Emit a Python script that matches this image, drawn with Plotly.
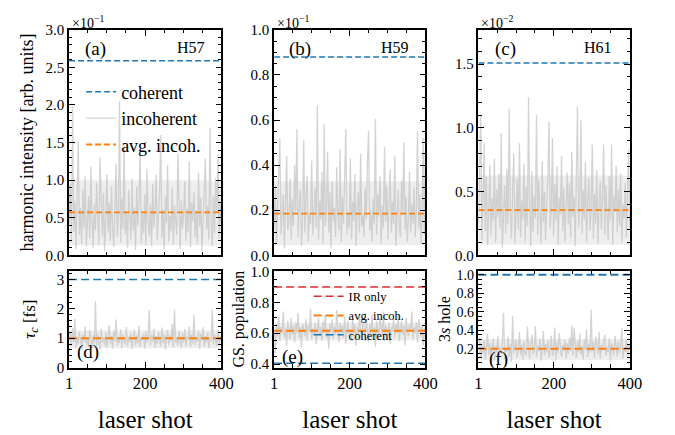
import plotly.graph_objects as go

FONT = "Liberation Serif"
BLUE = "#1f77b4"
ORANGE = "#ff7f0e"
RED = "#e32b2b"
NOISE = "rgba(200,200,200,0.8)"
BAND = "rgba(205,205,205,0.35)"

# laser shots that were sampled (every third shot of 400)
shots = list(range(1, 401, 3))
shot_range = [1, 400]

# ---- harmonic intensities (H57 in 1e-1, H59 in 1e-1, H61 in 1e-2 arb. units) ----
h57_incoh = [0.42, 0.95, 0.18, 1.98, 0.31, 0.72, 0.08, 1.12, 1.52, 0.27,
             0.63, 0.15, 0.88, 0.36, 1.05, 0.12, 0.54, 0.79, 0.22, 1.18,
             0.47, 0.09, 0.68, 0.33, 0.97, 0.41, 0.14, 1.30, 0.58, 0.25,
             0.83, 0.06, 0.49, 1.08, 0.30, 0.71, 0.19, 0.92, 0.38, 0.11,
             0.66, 1.22, 0.24, 0.52, 2.05, 0.17, 0.76, 0.35, 1.45, 0.28,
             0.59, 0.10, 0.87, 0.44, 0.21, 1.02, 0.33, 0.64, 0.07, 0.91,
             0.39, 0.74, 1.40, 0.16, 0.55, 0.29, 0.81, 0.13, 1.15, 0.46,
             0.26, 0.69, 0.12, 0.95, 0.37, 0.58, 1.07, 0.20, 0.50, 0.85,
             1.60, 0.23, 0.61, 0.09, 0.78, 0.43, 1.20, 0.18, 0.53, 0.32,
             0.90, 0.14, 0.67, 0.40, 0.27, 1.35, 0.48, 0.08, 0.73, 0.35,
             0.56, 0.98, 0.19, 0.62, 0.31, 1.25, 0.11, 0.70, 0.45, 0.84,
             0.24, 0.60, 0.15, 1.10, 0.38, 0.77, 0.06, 0.52, 0.93, 1.28,
             0.34, 0.65, 0.21, 1.70, 0.44, 0.12, 0.80, 0.29, 1.03, 0.57,
             1.35, 0.22, 0.69, 0.41]
h57_coherent = 2.59
h57_avg = 0.57
h57_band = [0.13, 1.00]

h59_incoh = [0.12, 0.31, 0.05, 0.22, 0.38, 0.52, 0.09, 0.17, 0.27, 0.03,
             0.20, 0.44, 0.11, 0.15, 0.34, 0.07, 0.25, 0.13, 0.40, 0.18,
             0.56, 0.08, 0.21, 0.29, 0.04, 0.16, 0.51, 0.10, 0.26, 0.35,
             0.06, 0.19, 0.14, 0.42, 0.09, 0.23, 0.30, 0.12, 0.665, 0.07,
             0.24, 0.16, 0.37, 0.05, 0.58, 0.13, 0.20, 0.46, 0.10, 0.28,
             0.03, 0.33, 0.15, 0.21, 0.08, 0.39, 0.17, 0.11, 0.47, 0.06,
             0.26, 0.14, 0.32, 0.56, 0.09, 0.19, 0.12, 0.43, 0.07, 0.24,
             0.15, 0.36, 0.04, 0.22, 0.28, 0.10, 0.45, 0.13, 0.18, 0.08,
             0.30, 0.16, 0.41, 0.55, 0.11, 0.20, 0.06, 0.25, 0.14, 0.605,
             0.09, 0.27, 0.17, 0.35, 0.05, 0.22, 0.12, 0.48, 0.15, 0.31,
             0.07, 0.19, 0.38, 0.10, 0.24, 0.14, 0.44, 0.04, 0.21, 0.29,
             0.13, 0.08, 0.33, 0.18, 0.50, 0.11, 0.26, 0.06, 0.16, 0.37,
             0.10, 0.23, 0.14, 0.30, 0.08, 0.20, 0.55, 0.12, 0.27, 0.05,
             0.18, 0.52, 0.09, 0.47]
h59_coherent = 0.88
h59_avg = 0.185
h59_band = [0.044, 0.328]

h61_incoh = [0.25, 0.58, 1.10, 0.12, 0.40, 0.88, 0.19, 0.62, 0.08, 0.33,
             0.71, 0.15, 0.45, 0.27, 0.76, 0.10, 0.52, 0.30, 0.64, 0.21,
             0.96, 0.06, 0.37, 0.55, 0.17, 0.68, 0.24, 1.15, 0.35, 0.13,
             0.49, 0.80, 0.09, 0.31, 0.60, 0.20, 0.88, 0.14, 0.43, 0.28,
             0.72, 0.11, 0.54, 0.23, 1.24, 0.36, 0.07, 0.66, 0.18, 0.47,
             0.29, 1.10, 0.16, 0.59, 0.38, 0.09, 0.74, 0.26, 0.50, 0.12,
             0.41, 0.63, 1.05, 0.21, 0.34, 0.92, 0.15, 0.56, 0.27, 0.70,
             0.08, 0.45, 0.32, 0.78, 0.19, 0.53, 0.11, 0.39, 0.65, 0.24,
             0.57, 0.14, 0.81, 0.30, 0.46, 0.07, 0.69, 1.17, 0.22, 0.37,
             1.06, 0.17, 0.51, 0.28, 0.73, 0.10, 0.42, 0.61, 0.19, 0.35,
             0.87, 0.13, 0.48, 0.25, 0.67, 0.09, 0.39, 0.58, 0.20, 0.44,
             0.87, 0.16, 0.55, 0.31, 0.12, 0.62, 0.27, 0.87, 0.08, 0.46,
             0.34, 0.70, 0.18, 0.52, 0.23, 0.64, 0.10, 0.40, 0.29, 0.57,
             0.14, 0.48, 0.83, 0.21]
h61_coherent = 1.51
h61_avg = 0.354
h61_band = [0.083, 0.627]

# ---- coherence time tau_c [fs] ----
tau_incoh = [0.92, 1.18, 0.74, 1.35, 0.85, 1.65, 0.68, 1.05, 0.80, 1.22,
             0.95, 0.62, 1.12, 0.88, 1.40, 0.77, 1.02, 0.70, 1.28, 0.90,
             0.66, 1.10, 0.83, 2.25, 0.72, 1.15, 0.94, 0.60, 1.32, 0.86,
             1.04, 0.75, 1.20, 0.69, 0.97, 1.45, 0.81, 1.08, 0.64, 1.25,
             0.89, 1.64, 0.73, 1.00, 0.84, 1.30, 0.67, 1.13, 0.91, 0.78,
             1.38, 0.71, 1.06, 0.87, 1.19, 0.63, 0.99, 1.27, 0.76, 1.09,
             0.82, 1.42, 0.70, 1.03, 0.93, 1.16, 0.65, 1.24, 0.85, 1.01,
             1.97, 0.74, 1.11, 0.88, 1.33, 0.68, 1.07, 0.79, 1.21, 0.95,
             0.72, 1.36, 0.84, 1.14, 0.61, 1.02, 1.29, 0.77, 1.10, 0.90,
             1.48, 0.69, 1.97, 0.83, 1.05, 0.74, 1.23, 0.92, 0.66, 1.17,
             0.87, 1.31, 0.73, 1.08, 0.95, 1.40, 0.70, 1.12, 0.81, 1.80,
             0.76, 1.04, 0.89, 1.26, 0.64, 1.15, 0.93, 1.37, 0.71, 1.06,
             0.85, 1.20, 0.67, 1.01, 0.90, 1.97, 0.78, 1.13, 0.96, 0.73,
             1.28, 0.82, 1.09, 0.94]
tau_coherent = 3.0
tau_avg = 1.0
tau_band = [0.66, 1.27]

# ---- ground-state population ----
gs_incoh = [0.62, 0.47, 0.66, 0.58, 0.71, 0.55, 0.64, 0.60, 0.74, 0.57,
            0.63, 0.52, 0.68, 0.61, 0.56, 0.70, 0.59, 0.65, 0.54, 0.67,
            0.60, 0.73, 0.57, 0.64, 0.51, 0.66, 0.62, 0.58, 0.69, 0.55,
            0.65, 0.61, 0.76, 0.56, 0.63, 0.59, 0.67, 0.53, 0.62, 0.70,
            0.58, 0.64, 0.55, 0.68, 0.60, 0.72, 0.57, 0.63, 0.50, 0.66,
            0.61, 0.69, 0.56, 0.64, 0.59, 0.75, 0.62, 0.54, 0.67, 0.60,
            0.65, 0.57, 0.71, 0.53, 0.63, 0.68, 0.58, 0.62, 0.55, 0.70,
            0.60, 0.66, 0.52, 0.64, 0.59, 0.73, 0.61, 0.56, 0.67, 0.63,
            0.57, 0.69, 0.62, 0.54, 0.66, 0.60, 0.72, 0.58, 0.64, 0.51,
            0.68, 0.61, 0.56, 0.70, 0.63, 0.59, 0.74, 0.55, 0.65, 0.62,
            0.58, 0.67, 0.53, 0.64, 0.61, 0.69, 0.57, 0.66, 0.60, 0.72,
            0.55, 0.63, 0.68, 0.59, 0.65, 0.52, 0.70, 0.62, 0.58, 0.66,
            0.61, 0.74, 0.56, 0.64, 0.60, 0.67, 0.54, 0.69, 0.62, 0.58,
            0.65, 0.52, 0.63, 0.60]
gs_ir_only = 0.90
gs_coherent = 0.405
gs_avg = 0.616
gs_band = [0.553, 0.668]

# ---- 3s hole population ----
hole_incoh = [0.18, 0.32, 0.11, 0.24, 0.15, 0.29, 0.08, 0.21, 0.36, 0.13,
              0.26, 0.10, 0.19, 0.31, 0.07, 0.23, 0.16, 0.34, 0.12, 0.22,
              0.14, 0.27, 0.59, 0.09, 0.20, 0.17, 0.33, 0.11, 0.25, 0.06,
              0.55, 0.15, 0.22, 0.30, 0.10, 0.19, 0.38, 0.13, 0.24, 0.08,
              0.28, 0.16, 0.12, 0.44, 0.21, 0.09, 0.26, 0.35, 0.14, 0.18,
              0.445, 0.11, 0.23, 0.17, 0.31, 0.07, 0.20, 0.39, 0.13, 0.25,
              0.16, 0.29, 0.10, 0.22, 0.34, 0.12, 0.19, 0.43, 0.08, 0.27,
              0.15, 0.37, 0.21, 0.11, 0.24, 0.18, 0.30, 0.09, 0.26, 0.14,
              0.32, 0.17, 0.45, 0.12, 0.43, 0.20, 0.10, 0.28, 0.16, 0.36,
              0.13, 0.23, 0.08, 0.30, 0.19, 0.41, 0.11, 0.25, 0.15, 0.62,
              0.17, 0.27, 0.10, 0.33, 0.21, 0.14, 0.38, 0.09, 0.24, 0.18,
              0.29, 0.35, 0.12, 0.22, 0.16, 0.31, 0.07, 0.26, 0.19, 0.13,
              0.34, 0.20, 0.11, 0.28, 0.15, 0.24, 0.42, 0.09, 0.21, 0.17,
              0.30, 0.12, 0.25, 0.19]
hole_coherent = 1.0
hole_avg = 0.2
hole_band = [0.077, 0.305]

W, H = 675, 435


def px_x(v):
    return v / W


def px_y(v):
    return 1 - v / H


col_dom = [[px_x(66.7), px_x(222.7)], [px_x(276.7), px_x(431.7)], [px_x(486), px_x(641)]]
top_dom = [px_y(256.7), px_y(22.7)]
bot_dom = [px_y(373.3), px_y(272.7)]

fig = go.Figure()


def hline(ax, value, color, name, width, dash, legend=None, show=False, rank=None):
    fig.add_trace(go.Scatter(
        x=shot_range, y=[value, value], mode="lines", name=name,
        line=dict(color=color, width=width, dash=dash),
        xaxis="x" + ax, yaxis="y" + ax, showlegend=show,
        legend=legend, legendrank=rank, legendgroup=(legend or "") + name,
        hoverinfo="skip"))


def band(ax, lims):
    fig.add_trace(go.Scatter(
        x=[shot_range[0], shot_range[1], shot_range[1], shot_range[0]],
        y=[lims[0], lims[0], lims[1], lims[1]], fill="toself", mode="none",
        fillcolor=BAND, xaxis="x" + ax, yaxis="y" + ax, showlegend=False,
        hoverinfo="skip"))


def noise(ax, values, show=False, legend=None, rank=None):
    fig.add_trace(go.Scatter(
        x=shots, y=values, mode="lines", name="incoherent",
        line=dict(color=NOISE, width=1.3), xaxis="x" + ax, yaxis="y" + ax,
        showlegend=show, legend=legend, legendrank=rank,
        legendgroup="incoherent", hoverinfo="skip"))


top_dash = "6px,3px"
bot_dash = "8px,4px"

# (a) H57
band("", h57_band)
noise("", h57_incoh, show=True, legend="legend", rank=2)
hline("", h57_coherent, BLUE, "coherent", 1.5, top_dash, "legend", True, 1)
hline("", h57_avg, ORANGE, "avg. incoh.", 1.8, top_dash, "legend", True, 3)
# (b) H59
band("2", h59_band)
noise("2", h59_incoh)
hline("2", h59_coherent, BLUE, "coherent", 1.5, top_dash)
hline("2", h59_avg, ORANGE, "avg. incoh.", 1.8, top_dash)
# (c) H61
band("3", h61_band)
noise("3", h61_incoh)
hline("3", h61_coherent, BLUE, "coherent", 1.5, top_dash)
hline("3", h61_avg, ORANGE, "avg. incoh.", 1.8, top_dash)
# (d) tau_c
band("4", tau_band)
noise("4", tau_incoh)
hline("4", tau_coherent, BLUE, "coherent", 1.5, bot_dash)
hline("4", tau_avg, ORANGE, "avg. incoh.", 2, bot_dash)
# (e) GS population
band("5", gs_band)
noise("5", gs_incoh)
hline("5", gs_ir_only, RED, "IR only", 1.5, bot_dash, "legend2", True, 1)
hline("5", gs_avg, ORANGE, "avg. incoh.", 2, bot_dash, "legend2", True, 2)
hline("5", gs_coherent, BLUE, "coherent", 1.5, bot_dash, "legend2", True, 3)
# (f) 3s hole
band("6", hole_band)
noise("6", hole_incoh)
hline("6", hole_coherent, BLUE, "coherent", 2, bot_dash)
hline("6", hole_avg, ORANGE, "avg. incoh.", 2, bot_dash)

frame = dict(showline=True, linecolor="black", linewidth=1.6, mirror="allticks",
             ticks="inside", ticklen=6, tickwidth=1, tickcolor="black",
             showgrid=False, zeroline=False,
             tickfont=dict(family=FONT, size=15, color="black"))

x_minor = dict(ticks="inside", ticklen=3.5, tickwidth=1, tickcolor="black",
               tickmode="array", tickvals=[50, 100, 150, 250, 300, 350])


def xaxis(i, bottom):
    d = dict(frame)
    d.update(domain=col_dom[i % 3], range=[1, 400], tickmode="array",
             tickvals=[1, 200, 400], showticklabels=bottom, minor=x_minor,
             anchor="y" + ("" if i == 0 else str(i + 1)),
             tickfont=dict(family=FONT, size=16.5, color="black"))
    if bottom:
        d["title"] = dict(text="laser shot", font=dict(family=FONT, size=25, color="black"),
                          standoff=18)
    return d


def yaxis(i, dom, rng, dtick, minor_dtick, fmt, tick0=0, tickvals=None, size=15):
    d = dict(frame)
    d.update(domain=dom, range=rng, tickformat=fmt,
             anchor="x" + ("" if i == 0 else str(i + 1)),
             minor=dict(ticks="inside", ticklen=3.5, tickwidth=1, tickcolor="black",
                        dtick=minor_dtick, tick0=0),
             tickfont=dict(family=FONT, size=size, color="black"))
    if tickvals is None:
        d.update(tickmode="linear", tick0=tick0, dtick=dtick)
    else:
        d.update(tickmode="array", tickvals=tickvals)
    return d


fig.update_layout(
    xaxis=xaxis(0, False), xaxis2=xaxis(1, False), xaxis3=xaxis(2, False),
    xaxis4=xaxis(3, True), xaxis5=xaxis(4, True), xaxis6=xaxis(5, True),
    yaxis=yaxis(0, top_dom, [0, 3.0], 0.5, 0.1, ".1f"),
    yaxis2=yaxis(1, top_dom, [0, 1.0], 0.2, 0.05, ".1f"),
    yaxis3=yaxis(2, top_dom, [0, 1.77], 0.5, 0.1, ".1f"),
    yaxis4=yaxis(3, bot_dom, [0, 3.3], 1, 0.2, "d"),
    yaxis5=yaxis(4, bot_dom, [0.377, 1.006], 0.2, 0.05, ".1f", tick0=0.4),
    yaxis6=yaxis(5, bot_dom, [-0.005, 1.045], 0.2, 0.05, ".1f",
                 tickvals=[0.2, 0.4, 0.6, 0.8, 1.0], size=14),
)

ytitle = dict(family=FONT, size=18, color="black")
fig.layout.yaxis.title = dict(text="harmonic intensity [arb. units]", font=ytitle, standoff=7)
fig.layout.yaxis4.title = dict(text="<i>τ<sub>c</sub></i> [fs]", font=dict(family=FONT, size=17, color="black"), standoff=17)
fig.layout.yaxis5.title = dict(text="GS. population", font=dict(family=FONT, size=16, color="black"), standoff=2)
fig.layout.yaxis6.title = dict(text="3<i>s</i> hole", font=dict(family=FONT, size=16, color="black"), standoff=2)

annots = []


def note(text, x, y, size, xanchor="center", yanchor="middle"):
    annots.append(dict(text=text, x=px_x(x), y=px_y(y), xref="paper", yref="paper",
                       showarrow=False, xanchor=xanchor, yanchor=yanchor,
                       font=dict(family=FONT, size=size, color="black")))


note("(a)", 94, 43, 19)
note("(b)", 303.5, 43, 19)
note("(c)", 514, 43, 19)
note("(d)", 86, 357, 19)
note("(e)", 296, 362, 19)
note("(f)", 506.5, 364, 19)
note("H57", 208, 41, 16, xanchor="right")
note("H59", 417, 41, 16, xanchor="right")
note("H61", 625, 41, 16, xanchor="right")
note("×10<sup>−1</sup>", 68, 15, 14, xanchor="left")
note("×10<sup>−1</sup>", 278, 15, 14, xanchor="left")
note("×10<sup>−2</sup>", 487, 15, 14, xanchor="left")

fig.update_layout(
    width=W, height=H, margin=dict(l=0, r=0, t=0, b=0),
    paper_bgcolor="white", plot_bgcolor="rgba(0,0,0,0)",
    annotations=annots,
    legend=dict(x=px_x(79), y=px_y(68), xanchor="left", yanchor="top",
                bgcolor="rgba(0,0,0,0)", itemwidth=30, tracegroupgap=0,
                font=dict(family=FONT, size=18, color="black")),
    legend2=dict(x=px_x(312), y=px_y(284), xanchor="left", yanchor="top",
                 bgcolor="rgba(0,0,0,0)", itemwidth=30, tracegroupgap=0,
                 font=dict(family=FONT, size=12.5, color="black")),
)

fig.write_html("out.html")
